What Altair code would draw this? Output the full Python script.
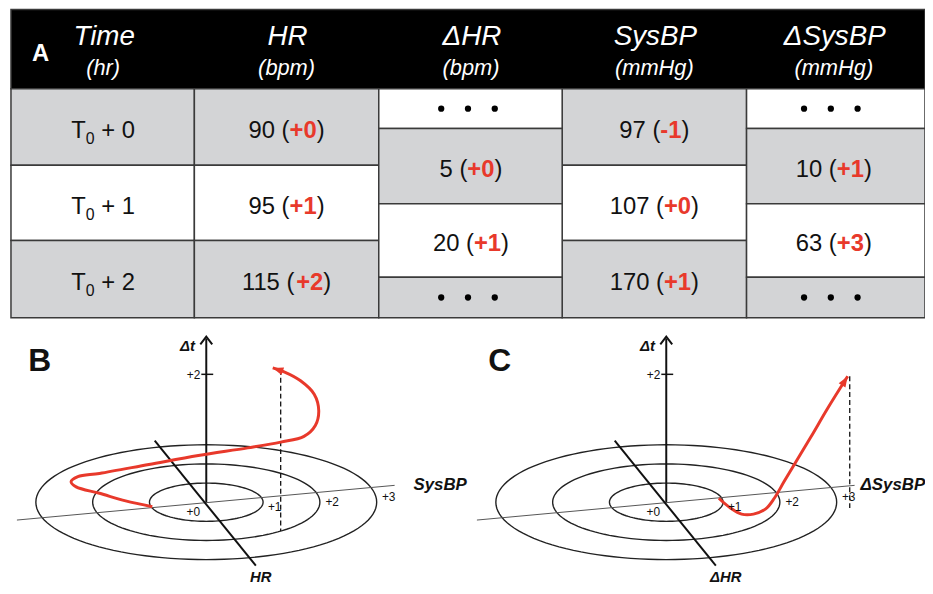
import math
import altair as alt
import pandas as pd

# ---------------- values ----------------
header_titles = ["Time", "HR", "ΔHR", "SysBP", "ΔSysBP"]
header_units = ["(hr)", "(bpm)", "(bpm)", "(mmHg)", "(mmHg)"]
time_offsets = ["0", "1", "2"]
hr_values = ["90", "95", "115"]
hr_bins = ["+0", "+1", "+2"]
dhr_values = ["5", "20"]
dhr_bins = ["+0", "+1"]
sysbp_values = ["97", "107", "170"]
sysbp_bins = ["-1", "+0", "+1"]
dsysbp_values = ["10", "63"]
dsysbp_bins = ["+1", "+3"]

ring_levels = [1, 2, 3]
ring_labels = ["+0", "+1", "+2", "+3"]
dt_tick_value = 2
dt_tick_label = "+2"

# trajectories in panel units (u: ring units along horizontal axis, t: Δt units)
traj_b_u = [-0.95, -1.42, -1.88, -2.29, -2.38, -2.26, -1.88, -1.01, -0.14, 0.73,
            1.31, 1.72, 1.92, 1.98, 1.90, 1.66, 1.37, 1.17]
traj_b_t = [-0.07, 0.02, 0.14, 0.24, 0.32, 0.40, 0.45, 0.59, 0.73, 0.85,
            0.94, 1.03, 1.20, 1.43, 1.69, 1.90, 2.04, 2.10]
traj_c_u = [0.925, 1.134, 1.326, 1.536, 1.745, 1.902, 2.077, 2.286, 2.548, 2.845, 3.194]
traj_c_t = [0.062, -0.093, -0.186, -0.186, -0.109, 0.062, 0.326, 0.636, 1.023, 1.473, 1.969]
drop_b = [1.31, 2.07, -0.45]   # u, t top, t bottom of dashed drop line
drop_c = [3.23, 1.97, -0.13]

# ---------------- layout ----------------
W, H = 925, 578
X0, Y0 = 8, 8
RED = "#e8392b"
GRAY = "#d3d4d6"
FONT = "Liberation Sans"

xs = alt.Scale(domain=[X0, X0 + W], nice=False, zero=False)
ys = alt.Scale(domain=[Y0, Y0 + H], nice=False, zero=False, reverse=True)

CW = {c: 0.556 for c in "0123456789"}
CW.update({" ": 0.278, "(": 0.333, ")": 0.333, "+": 0.584, "-": 0.333, "T": 0.611})


def tw(s, size):
    return sum(CW.get(c, 0.556) for c in s) * size


col_x = [11, 196, 382, 567, 753, 933]
col_c = [104, 289, 475, 660, 841]
row_y = [87, 164, 240, 318]
half_y = [87, 127, 203, 277, 318]
HEAD_TOP = 7

# ---- table cells ----
rects = [dict(x=col_x[0], x2=933, y=HEAD_TOP, y2=row_y[0], fill="#000000")]
row_fill = [GRAY, "#ffffff", GRAY]
half_fill = ["#ffffff", GRAY, "#ffffff", GRAY]
for ci in (0, 1, 3):
    for r in range(3):
        rects.append(dict(x=col_x[ci], x2=col_x[ci + 1], y=row_y[r], y2=row_y[r + 1], fill=row_fill[r]))
for ci in (2, 4):
    for r in range(4):
        rects.append(dict(x=col_x[ci], x2=col_x[ci + 1], y=half_y[r], y2=half_y[r + 1], fill=half_fill[r]))
rects_df = pd.DataFrame(rects)

# ---- table texts ----
reg, red = [], []
SZ = 24


def mixed(cx, cy, value, delta):
    a, b, c = value + " (", delta, ")"
    total = tw(a, SZ) + tw(b, SZ) + tw(c, SZ)
    x = cx - total / 2
    base = cy + 11
    reg.append(dict(x=x, y=base, text=a, size=SZ))
    red.append(dict(x=x + tw(a, SZ), y=base, text=b, size=SZ))
    reg.append(dict(x=x + tw(a, SZ) + tw(b, SZ), y=base, text=c, size=SZ))


for r in range(3):
    cy = (row_y[r] + row_y[r + 1]) / 2
    # T0 + k
    rest = "+ " + time_offsets[r]
    total = tw("T", SZ) + tw("0", 16) + tw(" ", SZ) + tw(rest, SZ)
    x = col_c[0] - total / 2
    reg.append(dict(x=x, y=cy + 11, text="T", size=SZ))
    reg.append(dict(x=x + tw("T", SZ), y=cy + 17, text="0", size=16))
    reg.append(dict(x=x + tw("T", SZ) + tw("0", 16) + tw(" ", SZ), y=cy + 11, text=rest, size=SZ))
    mixed(col_c[1], cy, hr_values[r], hr_bins[r])
    mixed(col_c[3], cy, sysbp_values[r], sysbp_bins[r])
for r in range(2):
    cy = (half_y[r + 1] + half_y[r + 2]) / 2
    mixed(col_c[2], cy, dhr_values[r], dhr_bins[r])
    mixed(col_c[4], cy, dsysbp_values[r], dsysbp_bins[r])
reg_df = pd.DataFrame(reg)
red_df = pd.DataFrame(red)

dots = []
for ci in (2, 4):
    for r in (0, 3):
        cy = (half_y[r] + half_y[r + 1]) / 2
        for k in (-1, 0, 1):
            dots.append(dict(x=col_c[ci] - 3 + 27 * k, y=cy))
dots_df = pd.DataFrame(dots)

head = []
for i in range(5):
    head.append(dict(x=col_c[i] + 1, y=43, text=header_titles[i], size=28))
    head.append(dict(x=col_c[i], y=73, text=header_units[i], size=22))
head_df = pd.DataFrame(head)

# ---------------- 3D panels ----------------
UX, UT, URY = 57.3, 64.5, 19.3
panels = {
    "B": dict(ox=208, oy=504, traj=(traj_b_u, traj_b_t), drop=drop_b,
              hname="SysBP", hname_dx=209, dname="HR", dname_dx=55),
    "C": dict(ox=672, oy=504, traj=(traj_c_u, traj_c_t), drop=drop_c,
              hname="ΔSysBP", hname_dx=196, dname="ΔHR", dname_dx=60),
}

ell, curves, thin, thick, ticks, dashed = [], [], [], [], [], []
arrows_red, arrows_axis = [], []
small_lbl, right_lbl, axis_lbl_left, axis_lbl_center, panel_lbl = [], [], [], [], []

for name, p in panels.items():
    ox, oy = p["ox"], p["oy"]
    for k in ring_levels:
        for i in range(121):
            a = 2 * math.pi * i / 120
            ell.append(dict(g=f"{name}{k}", i=i, x=ox + k * UX * math.cos(a), y=oy + k * URY * math.sin(a)))
    us, ts = p["traj"]
    for i, (u, t) in enumerate(zip(us, ts)):
        curves.append(dict(g=name, i=i, x=ox + u * UX, y=oy - t * UT))
    # arrowhead direction from the last two points
    x1, y1 = ox + us[-2] * UX, oy - ts[-2] * UT
    x2, y2 = ox + us[-1] * UX, oy - ts[-1] * UT
    ang = math.degrees(math.atan2(x2 - x1, -(y2 - y1))) % 360
    arrows_red.append(dict(x=x2, y=y2, a=ang))
    # axes
    thin.append(dict(x=ox - 191, y=oy + 18, x2=ox + 190, y2=oy - 17))
    thick.append(dict(x=ox - 52, y=oy - 62, x2=ox + 50, y2=oy + 64))
    thick.append(dict(x=ox, y=oy, x2=ox, y2=oy - 165))
    arrows_axis.append(dict(x=ox, y=oy - 167, a=0))
    ticks.append(dict(x=ox - 5, y=oy - dt_tick_value * UT, x2=ox + 7, y2=oy - dt_tick_value * UT))
    du, dt_top, dt_bot = p["drop"]
    dashed.append(dict(x=ox + du * UX, y=oy - dt_top * UT, x2=ox + du * UX, y2=oy - dt_bot * UT))
    # labels
    right_lbl.append(dict(x=ox - 6, y=oy - dt_tick_value * UT + 1, text=dt_tick_label, size=12))
    ring_pos = [(-13, 10), (69, 5), (127, 0), (184, -5)]
    for lab, (dx, dy) in zip(ring_labels, ring_pos):
        small_lbl.append(dict(x=ox + dx, y=oy + dy, text=lab, size=12))
    axis_lbl_left.append(dict(x=ox + p["hname_dx"], y=oy - 17, text=p["hname"], size=17))
    axis_lbl_center.append(dict(x=ox + p["dname_dx"], y=oy + 75, text=p["dname"], size=15))
    axis_lbl_center.append(dict(x=ox - 19, y=oy - 158, text="Δt", size=15))
    panel_lbl.append(dict(x=ox - 168, y=oy - 142, text=name, size=32))

panel_lbl.append(dict(x=41, y=52, text="A", size=24))

ell_df = pd.DataFrame(ell)
curve_df = pd.DataFrame(curves)


def X(f="x"):
    return alt.X(f"{f}:Q", scale=xs, axis=None)


def Y(f="y"):
    return alt.Y(f"{f}:Q", scale=ys, axis=None)


def rules(df, **mk):
    return alt.Chart(pd.DataFrame(df)).mark_rule(**mk).encode(
        x=X(), y=Y(), x2="x2:Q", y2="y2:Q")


def texts(df, color, **mk):
    return alt.Chart(pd.DataFrame(df)).mark_text(font=FONT, color=color, **mk).encode(
        x=X(), y=Y(), text="text:N", size=alt.Size("size:Q", scale=None, legend=None))


layers = [
    alt.Chart(rects_df).mark_rect(stroke="#3a3a3a", strokeWidth=1.5).encode(
        x=X(), x2="x2:Q", y=Y(), y2="y2:Q", fill=alt.Fill("fill:N", scale=None)),
    texts(head_df, "#ffffff", fontStyle="italic", align="center", baseline="alphabetic"),
    texts(reg_df, "#111111", align="left", baseline="alphabetic"),
    texts(red_df, RED, fontWeight="bold", align="left", baseline="alphabetic"),
    alt.Chart(dots_df).mark_circle(size=40, color="#000000", opacity=1).encode(x=X(), y=Y()),
    alt.Chart(ell_df).mark_line(color="#222222", strokeWidth=1.4).encode(
        x=X(), y=Y(), detail="g:N", order="i:Q"),
    rules(thin, color="#555555", strokeWidth=1),
    rules(thick, color="#111111", strokeWidth=2),
    rules(ticks, color="#111111", strokeWidth=1.5),
    rules(dashed, color="#111111", strokeWidth=1.3, strokeDash=[5, 3]),
    alt.Chart(curve_df).mark_line(color=RED, strokeWidth=3, interpolate="catmull-rom").encode(
        x=X(), y=Y(), detail="g:N", order="i:Q"),
    alt.Chart(pd.DataFrame(arrows_red)).mark_point(
        shape="M0,0 L0.6,1.6 L-0.6,1.6 Z", filled=True, color=RED, size=180, opacity=1).encode(
        x=X(), y=Y(), angle=alt.Angle("a:Q", scale=None)),
    alt.Chart(pd.DataFrame(arrows_axis)).mark_point(
        shape="M-1,1.3 L0,0 L1,1.3", filled=False, color="#111111", size=144, strokeWidth=2,
        opacity=1).encode(x=X(), y=Y()),
    texts(small_lbl, "#111111", align="center", baseline="middle"),
    texts(right_lbl, "#111111", align="right", baseline="middle"),
    texts(axis_lbl_left, "#111111", fontWeight="bold", fontStyle="italic", align="left", baseline="middle"),
    texts(axis_lbl_center, "#111111", fontWeight="bold", fontStyle="italic", align="center", baseline="middle"),
    texts([d for d in panel_lbl if d["text"] != "A"], "#111111", fontWeight="bold", align="center", baseline="middle"),
    texts([d for d in panel_lbl if d["text"] == "A"], "#ffffff", fontWeight="bold", align="center", baseline="middle"),
]

chart = alt.layer(*layers).properties(
    width=W, height=H, padding=0,
    autosize=alt.AutoSizeParams(type="none"),
).configure_view(stroke=None)

chart.save("out.html", embed_options={"renderer": "svg", "actions": False})
